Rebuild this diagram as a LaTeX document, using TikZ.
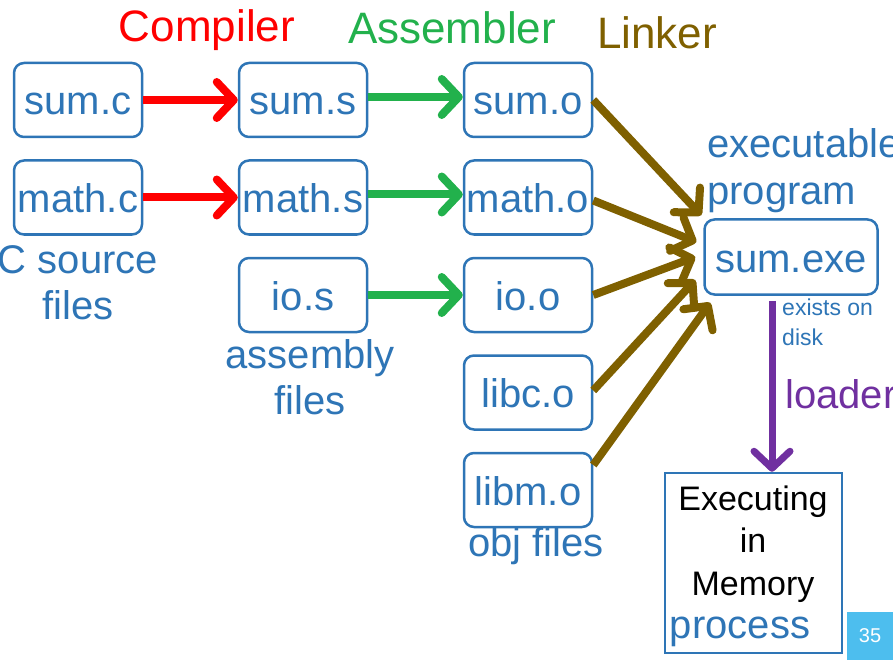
\documentclass[tikz,border=0pt]{standalone}
\usepackage{fontspec}
\setmainfont{Liberation Sans}
\usepackage{tikz}
\usetikzlibrary{arrows.meta}
\usetikzlibrary{positioning}
\definecolor{fileblue}{HTML}{2E75B6}
\definecolor{compred}{HTML}{FF0000}
\definecolor{asmgreen}{HTML}{22B14C}
\definecolor{linkbrown}{HTML}{7F6000}
\definecolor{loadpurple}{HTML}{7030A0}
\definecolor{slideblue}{HTML}{4DBEEE}

\begin{document}
\begin{tikzpicture}[x=1pt,y=-1pt,
		every node/.style={font=\fontsize{40}{46}\selectfont,text=fileblue,align=center,inner sep=0pt},
		file/.style={draw=fileblue,line width=2.5pt,rounded corners=10pt,minimum width=128pt,minimum height=74pt,text height=30pt,text depth=0pt},
		stage/.style={font=\fontsize{44}{48}\selectfont},
		tool/.style={line width=8pt,-{Straight Barb[length=17pt,width=36pt,round]}}]

					\useasboundingbox (0,0) rectangle (893,660);

					% source, assembly and object files
					\node[file] (sumc) at (78,100) {sum.c};
					\node[file, below=21pt of sumc] (mathc) {math.c};
					\node[file, right=94.5pt of sumc] (sums) {sum.s};
					\node[file, below=21pt of sums] (maths) {math.s};
					\node[file, below=21pt of maths] (ios) {io.s};
					\node[file, right=94.5pt of sums] (sumo) {sum.o};
					\node[file, below=21pt of sumo] (matho) {math.o};
					\node[file, below=21pt of matho] (ioo) {io.o};
					\node[file, below=21pt of ioo] (libco) {libc.o};
					\node[file, below=21pt of libco] (libmo) {libm.o};
					\node[file, minimum width=173pt, minimum height=75pt] (exe) at (791,257) {sum.exe};
					\node[draw=fileblue, line width=2.5pt, minimum width=177pt, minimum height=180pt] (mem) at (753.5,563) {};

					% labels
					\node[stage, text=compred] (comp) at (207,30) {Compiler};
					\node[stage, text=asmgreen] (asm) at (452,28) {Assembler};
					\node[stage, text=linkbrown] (link) at (657,33) {Linker};
					\node (csrc) at (78,283) {C source\\files};
					\node (asmf) at (310,377) {assembly\\files};
					\node (objf) at (536,546) {obj files};
					\node[anchor=west, align=left, font=\fontsize{40}{47}\selectfont] (exel) at (707,171) {executable\\program};
					\node[anchor=west, align=left, font=\fontsize{23}{30}\selectfont] (disk) at (782,322) {exists on\\disk};
					\node[anchor=west, text=loadpurple] (load) at (785,394) {loader};
					\node[text=black, font=\fontsize{34}{42.5}\selectfont] (memt) at (753,544) {Executing\\in\\Memory};
					\node (proc) at (740,632) {process};
					\node[fill=slideblue, text=white, minimum width=46pt, minimum height=48pt, font=\fontsize{20}{24}\selectfont] (page) at (870,636) {35};

					% tools
					\draw[tool, compred] (sumc) -- (sums);
					\draw[tool, compred] (mathc) -- (maths);
					\draw[tool, asmgreen] ([yshift=3pt]sums.east) -- ([yshift=3pt]sumo.west);
					\draw[tool, asmgreen] ([yshift=3pt]maths.east) -- ([yshift=3pt]matho.west);
					\draw[tool, asmgreen] (ios) -- (ioo);
					\draw[tool, linkbrown] (sumo.east) -- ([shift={(-2,-3)}]exe.north west);
					\draw[tool, linkbrown] ([shift={(0,3)}]matho.east) -- ([shift={(-7,-15)}]exe.west);
					\draw[tool, linkbrown] (ioo.east) -- ([shift={(-8,0)}]exe.west);
					\draw[tool, linkbrown] ([shift={(0,-2)}]libco.east) -- ([shift={(-8,23)}]exe.west);
					\draw[tool, linkbrown] ([shift={(0,-25)}]libmo.east) -- ([shift={(7,7)}]exe.south west);
					\coordinate (ldtop) at ([shift={(-19,5)}]exe.south);
					\draw[tool, loadpurple, line width=7pt] (ldtop) -- (ldtop |- mem.north);

					\end{tikzpicture}
\end{document}
